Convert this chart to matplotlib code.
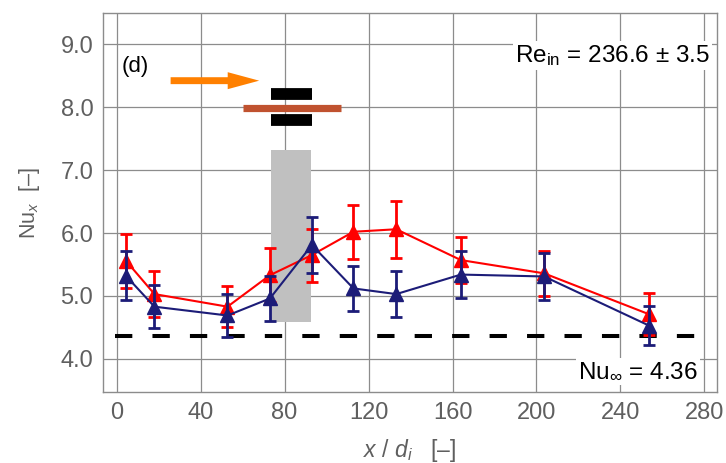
"""
Local Nusselt number along the tube, case (d).
"""

import matplotlib
matplotlib.use('Agg')
import matplotlib.pyplot as plt
from matplotlib.patches import Rectangle, FancyArrow


X_POS = [4.4, 18.0, 52.8, 73.0, 93.0, 112.8, 133.2, 164.0, 203.6, 253.6]

NU_RED = [5.56, 5.03, 4.83, 5.33, 5.65, 6.02, 6.06, 5.57, 5.36, 4.71]
ERR_RED = [0.43, 0.36, 0.33, 0.43, 0.42, 0.43, 0.45, 0.37, 0.36, 0.33]

NU_BLUE = [5.32, 4.83, 4.69, 4.96, 5.81, 5.12, 5.03, 5.34, 5.31, 4.53]
ERR_BLUE = [0.39, 0.34, 0.34, 0.36, 0.44, 0.36, 0.36, 0.37, 0.37, 0.31]

NU_INF = 4.36

X_TICKS = [0, 40, 80, 120, 160, 200, 240, 280]
Y_TICKS = [4.0, 5.0, 6.0, 7.0, 8.0, 9.0]

RED = '#ff0000'
BLUE = '#1c1c78'
GRAY_TEXT = '#5f5f5f'


def main():

    plt.rcParams['font.family'] = ['Liberation Sans', 'DejaVu Sans']
    plt.rcParams['mathtext.fontset'] = 'custom'
    plt.rcParams['mathtext.rm'] = 'Liberation Sans'
    plt.rcParams['mathtext.it'] = 'Liberation Sans:italic'

    fig = plt.figure(figsize=(7.26, 4.63), dpi=100)
    axes = fig.add_axes([0.1419, 0.1527, 0.8457, 0.8199])

    axes.set_xlim(-6.5, 286)
    axes.set_ylim(3.47, 9.5)

    axes.set_xticks(X_TICKS)
    axes.set_yticks(Y_TICKS)
    axes.set_yticklabels(['%.1f' % v for v in Y_TICKS])
    axes.tick_params(length=0, labelsize=17, labelcolor=GRAY_TEXT, pad=7)
    axes.grid(color='#8c8c8c', linewidth=0.9)
    axes.set_axisbelow(True)
    for spine in axes.spines.values():
        spine.set_color('#8c8c8c')
        spine.set_linewidth(1.0)

    # Schematic of the insert: shaded region, flow arrow and heater bars.
    axes.add_patch(Rectangle((73.7, 4.58), 19.1, 2.74,
                             facecolor='#c0c0c0', edgecolor='none', zorder=1))
    axes.add_patch(FancyArrow(25.7, 8.42, 42.2, 0, width=0.11,
                              head_width=0.27, head_length=15,
                              length_includes_head=True,
                              facecolor='#ff8000', edgecolor='none',
                              zorder=3))
    axes.plot([60, 106.7], [7.99, 7.99], color='#c0522f', linewidth=5.2,
              solid_capstyle='butt', zorder=3)
    axes.plot([73.5, 93.2], [8.21, 8.21], color='black', linewidth=8.5,
              solid_capstyle='butt', zorder=3)
    axes.plot([73.5, 93.2], [7.79, 7.79], color='black', linewidth=8.5,
              solid_capstyle='butt', zorder=3)

    # Fully developed value.
    axes.plot([-1, 283], [NU_INF, NU_INF], color='black', linewidth=2.9,
              dashes=(4.3, 5.0), zorder=2)

    axes.errorbar(X_POS, NU_RED, yerr=ERR_RED, color=RED, linewidth=1.5,
                  marker='^', markersize=10.5, elinewidth=2, capsize=4,
                  capthick=2, zorder=4)
    axes.errorbar(X_POS, NU_BLUE, yerr=ERR_BLUE, color=BLUE, linewidth=1.5,
                  marker='^', markersize=10.5, elinewidth=2, capsize=4,
                  capthick=2, zorder=5)

    axes.text(2.5, 8.65, '(d)', fontsize=16, ha='left', va='center')
    axes.text(282.5, 8.82, r'Re$_{\mathrm{in}}$ = 236.6 ± 3.5',
              fontsize=17.5, ha='right', va='center', zorder=6,
              bbox=dict(facecolor='white', edgecolor='none', pad=1.5))
    axes.text(277, 3.8, r'Nu$_{\infty}$ = 4.36', fontsize=17.5,
              ha='right', va='center', zorder=6,
              bbox=dict(facecolor='white', edgecolor='none', pad=1.5))

    axes.set_xlabel(r'$x$ / $d_i$   [–]', fontsize=16.5, color=GRAY_TEXT,
                    labelpad=9)
    axes.set_ylabel(r'Nu$_x$  [–]', fontsize=15.5, color=GRAY_TEXT,
                    labelpad=13)

    fig.savefig('out.png', dpi=100)
    plt.close(fig)


if __name__ == '__main__':
    main()
